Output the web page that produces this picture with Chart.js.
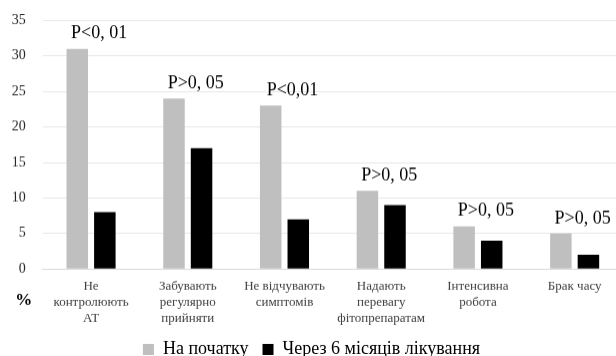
<!DOCTYPE html>
<html>
<head>
<meta charset="utf-8">
<script src="https://cdn.jsdelivr.net/npm/chart.js@4/dist/chart.umd.min.js"></script>
<style>
  html, body { margin: 0; padding: 0; background: #fff; overflow: hidden; }
  #wrap { width: 616px; height: 356px; overflow: hidden; position: relative; }
  #box { position: absolute; left: 0; top: -4.9px; width: 623px; height: 372.4px; }
</style>
</head>
<body>
<div id="wrap"><div id="box"><canvas id="c"></canvas></div></div>
<script>
// Reasons for non-adherence, % of patients
const categories = [
  ["Не", "контролюють", "АТ"],
  ["Забувають", "регулярно", "прийняти"],
  ["Не відчувають", "симптомів"],
  ["Надають", "перевагу", "фітопрепаратам"],
  ["Інтенсивна", "робота"],
  ["Брак часу"]
];
const atStart = [31, 24, 23, 11, 6, 5];
const after6Months = [8, 17, 7, 9, 4, 2];
const pLabels = ["P<0, 01", "P>0, 05", "P<0,01", "P>0, 05", "P>0, 05", "P>0, 05"];
const seriesNames = ["На початку", "Через 6 місяців лікування"];
const yMin = 0, yMax = 35, yStep = 5;
const unitLabel = "%";

const SERIF = "'Liberation Serif', 'Times New Roman', serif";
Chart.defaults.font.family = SERIF;

// Significance labels above each pair of bars
const pLabelPlugin = {
  id: 'pLabels',
  afterDatasetsDraw(chart) {
    const ctx = chart.ctx;
    const m0 = chart.getDatasetMeta(0).data;
    const m1 = chart.getDatasetMeta(1).data;
    ctx.save();
    ctx.font = "18px " + SERIF;
    ctx.fillStyle = "#000";
    ctx.textAlign = "center";
    ctx.textBaseline = "middle";
    pLabels.forEach((t, i) => {
      const x = (m0[i].x + m1[i].x) / 2 + 8;
      const y = m0[i].y - 15;
      ctx.fillText(t, x, y);
    });
    ctx.restore();
  }
};

// Unit sign under the value axis
const unitPlugin = {
  id: 'unitSign',
  afterDraw(chart) {
    const ctx = chart.ctx;
    const a = chart.chartArea;
    ctx.save();
    ctx.font = "bold 17px " + SERIF;
    ctx.fillStyle = "#000";
    ctx.textAlign = "center";
    ctx.textBaseline = "middle";
    ctx.fillText(unitLabel, a.left - 19, a.bottom + 31);
    ctx.restore();
  }
};

new Chart(document.getElementById('c'), {
  type: 'bar',
  data: {
    labels: categories,
    datasets: [
      { label: seriesNames[0], data: atStart, backgroundColor: '#bfbfbf' },
      { label: seriesNames[1], data: after6Months, backgroundColor: '#000000' }
    ]
  },
  options: {
    responsive: true,
    maintainAspectRatio: false,
    animation: false,
    devicePixelRatio: 1,
    categoryPercentage: 0.57,
    barPercentage: 0.78,
    layout: { padding: { top: 15, left: 0, right: 0, bottom: 0 } },
    plugins: {
      tooltip: { enabled: false },
      legend: {
        position: 'bottom',
        labels: {
          font: { family: SERIF, size: 18 },
          color: '#000',
          boxWidth: 11,
          boxHeight: 11,
          padding: 14
        }
      }
    },
    scales: {
      x: {
        grid: { display: false, drawTicks: false },
        border: { display: true, color: '#d9d9d9' },
        ticks: {
          font: { family: SERIF, size: 13 },
          color: '#404040',
          padding: 10,
          maxRotation: 0,
          autoSkip: false
        },
        afterFit(scale) { scale.height = 57.2; }
      },
      y: {
        min: yMin,
        max: yMax,
        grid: { color: '#e7e7e7', drawTicks: false },
        border: { display: false },
        ticks: {
          stepSize: yStep,
          font: { family: SERIF, size: 14 },
          color: '#262626',
          padding: 17
        },
        afterFit(scale) { scale.width = 42.7; }
      }
    }
  },
  plugins: [pLabelPlugin, unitPlugin]
});
</script>
</body>
</html>
